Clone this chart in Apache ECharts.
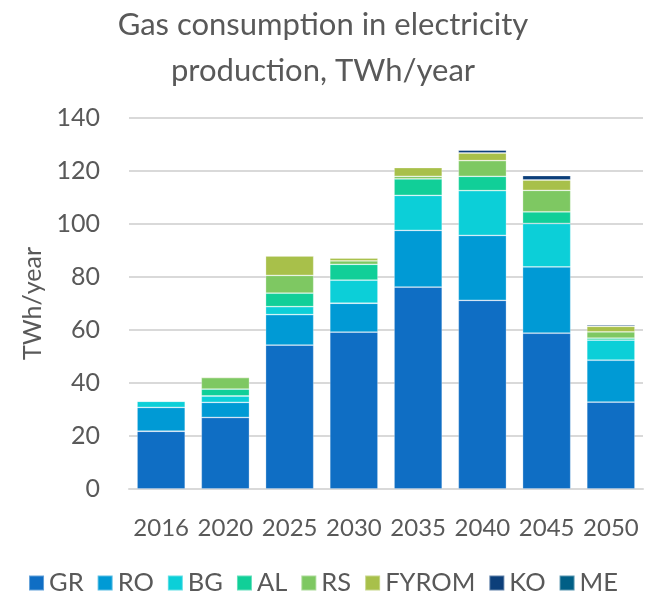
<!DOCTYPE html>
<html>
<head>
<meta charset="utf-8">
<script src="https://cdn.jsdelivr.net/npm/echarts@6/dist/echarts.min.js"></script>
<style>
  html, body { margin: 0; padding: 0; background: #fff; }
  #chart { width: 646px; height: 595px; }
</style>
</head>
<body>
<div id="chart"></div>
<script>
// Gas use in power generation by country, TWh/year
const years = ['2016', '2020', '2025', '2030', '2035', '2040', '2045', '2050'];
const GR    = [21.8, 27.0, 54.3, 59.2, 76.2, 71.2, 58.8, 32.8];
const RO    = [9.0, 5.7, 11.5, 10.9, 21.4, 24.5, 25.0, 15.8];
const BG    = [2.3, 2.4, 3.0, 8.7, 13.2, 16.9, 16.4, 7.6];
const AL    = [0.1, 2.6, 5.1, 6.0, 6.2, 5.4, 4.4, 0.7];
const RS    = [0.3, 4.3, 6.7, 1.3, 1.0, 5.9, 8.1, 2.4];
const FYROM = [0.3, 0.4, 7.4, 1.1, 3.3, 2.9, 3.9, 2.1];
const KO    = [0, 0, 0, 0, 0.3, 1.1, 1.7, 0.5];
const ME    = [0, 0, 0, 0, 0.2, 0.2, 0.2, 0.1];

const seriesDefs = [
  { name: 'GR', data: GR, color: '#0f6ec4' },
  { name: 'RO', data: RO, color: '#009ad5' },
  { name: 'BG', data: BG, color: '#0ccfd8' },
  { name: 'AL', data: AL, color: '#11cf98' },
  { name: 'RS', data: RS, color: '#7ec862' },
  { name: 'FYROM', data: FYROM, color: '#a8c04a' },
  { name: 'KO', data: KO, color: '#0c3f7a' },
  { name: 'ME', data: ME, color: '#005f86' }
];

const FONT = 'Lato';
const TEXT = '#595959';

const chart = echarts.init(document.getElementById('chart'), null, { renderer: 'canvas' });
chart.setOption({
  animation: false,
  backgroundColor: '#ffffff',
  title: {
    text: 'Gas consumption in electricity\nproduction, TWh/year',
    left: 'center',
    top: -3,
    textStyle: {
      fontFamily: FONT, fontSize: 31, fontWeight: 'normal', color: TEXT, lineHeight: 46
    }
  },
  legend: {
    bottom: -6,
    left: 'center',
    itemWidth: 15,
    itemHeight: 15,
    itemGap: 13,
    icon: 'rect',
    textStyle: { fontFamily: FONT, fontSize: 25.5, color: TEXT, padding: [0, 0, 0, 0] },
    data: seriesDefs.map(s => s.name)
  },
  grid: { left: 129, right: 3, top: 118, bottom: 106 },
  xAxis: {
    type: 'category',
    data: years,
    axisLine: { lineStyle: { color: '#d9d9d9', width: 2 } },
    axisTick: { show: false },
    axisLabel: { fontFamily: FONT, fontSize: 24, color: TEXT, margin: 27, interval: 0 }
  },
  yAxis: {
    type: 'value',
    min: 0,
    max: 140,
    interval: 20,
    name: 'TWh/year',
    nameLocation: 'middle',
    nameGap: 84,
    nameTextStyle: { fontFamily: FONT, fontSize: 25, color: TEXT },
    axisLine: { show: false },
    axisTick: { show: false },
    axisLabel: { fontFamily: FONT, fontSize: 25, color: TEXT, margin: 29 },
    splitLine: { lineStyle: { color: '#d9d9d9', width: 2 } }
  },
  series: seriesDefs.map(s => ({
    name: s.name,
    type: 'bar',
    stack: 'total',
    barWidth: '75%',
    data: s.data,
    itemStyle: {
      color: s.color,
      borderColor: 'rgba(255,255,255,0.35)',
      borderWidth: 0.8
    }
  }))
});
</script>
</body>
</html>
